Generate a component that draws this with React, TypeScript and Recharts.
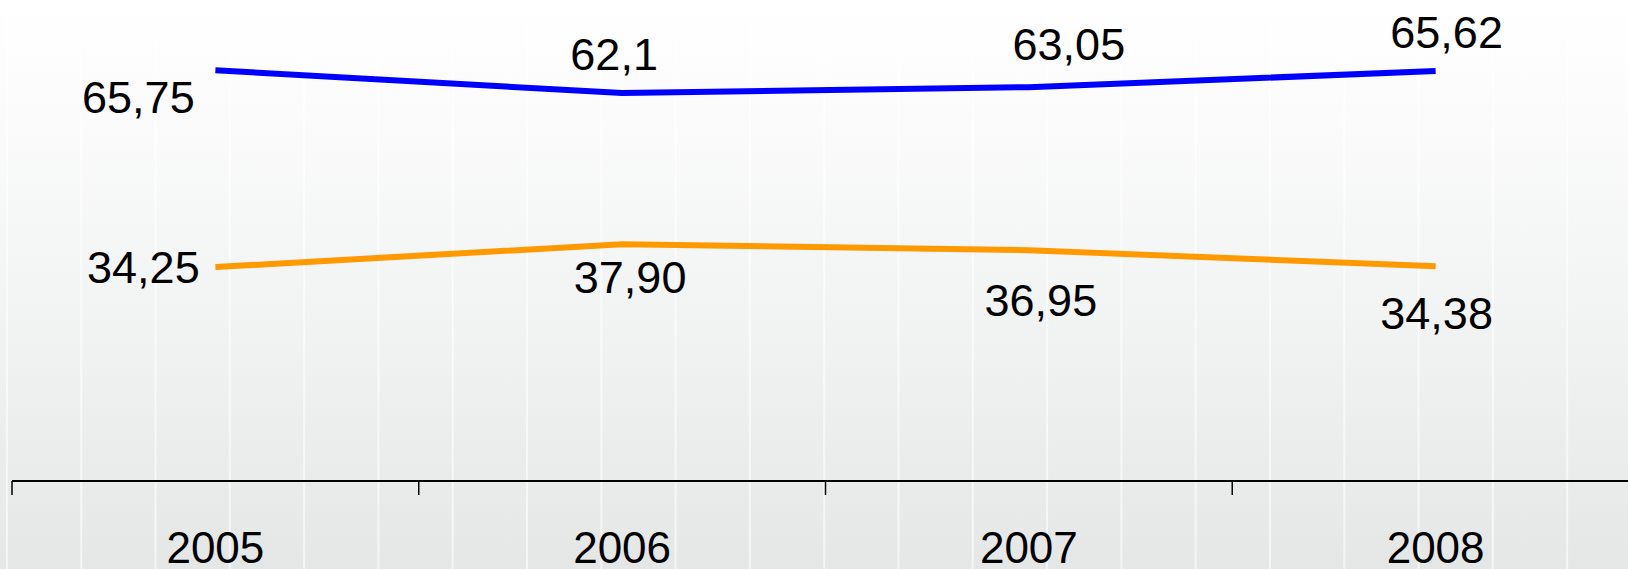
import React from 'react';
import { LineChart, Line, XAxis, YAxis, LabelList } from 'recharts';

const years = ['2005', '2006', '2007', '2008'];
const blueValues = [65.75, 62.1, 63.05, 65.62];
const orangeValues = [34.25, 37.9, 36.95, 34.38];

// label offsets (style only)
const blueLabelOffsets = [[-77, 27], [-8, -39], [40, -43], [11, -39]];
const orangeLabelOffsets = [[-72, 0], [8, 33], [12, 50], [1, 47]];

const data = years.map((y, i) => ({ x: i, year: y, blue: blueValues[i], orange: orangeValues[i] }));

const FONT = '"Liberation Sans", Arial, sans-serif';

const xTicks = [-0.5, 0, 0.5, 1, 1.5, 2, 2.5, 3, 3.5];

const CustomTick = (props: any) => {
  const { x, y, payload } = props;
  const v = payload.value;
  if (Math.abs(v - Math.round(v)) > 0.1) {
    return <line x1={x} x2={x} y1={y} y2={y + 14} stroke="#000" strokeWidth={1.5} />;
  }
  return (
    <text x={x} y={y + 66} textAnchor="middle" dominantBaseline="central" fontFamily={FONT} fontSize={44} fill="#000">
      {years[v]}
    </text>
  );
};

const makeLabel = (offsets: number[][], fmt: (v: number) => string) => (props: any) => {
  const { x, y, value, index } = props;
  const [dx, dy] = offsets[index];
  return (
    <text x={x + dx} y={y + dy} textAnchor="middle" dominantBaseline="central" fontFamily={FONT} fontSize={45} fill="#000">
      {fmt(value)}
    </text>
  );
};

const fmtBlue = (v: number) => String(v).replace('.', ',');
const fmtOrange = (v: number) => v.toFixed(2).replace('.', ',');

export default function App() {
  return (
    <div
      style={{
        position: 'absolute',
        left: 0,
        top: 0,
        width: 1628,
        height: 569,
        overflow: 'hidden',
        backgroundImage:
          'linear-gradient(to right, rgba(255,255,255,0) 6px, rgba(255,255,255,0.6) 6px, rgba(255,255,255,0.6) 8px, rgba(255,255,255,0) 8px), linear-gradient(to bottom, #ffffff 0%, #fdfdfd 12%, #f2f3f3 55%, #e5e6e6 100%)',
        backgroundSize: '74.3px 100%, 100% 100%',
        backgroundRepeat: 'repeat-x, no-repeat',
      }}
    >
      <LineChart width={1640} height={569} data={data} margin={{ top: 0, right: 1, bottom: 0, left: 12 }}>
        <XAxis
          dataKey="x"
          type="number"
          domain={[-0.5, 3.5]}
          ticks={xTicks}
          interval={0}
          height={88}
          tickSize={0}
          tickMargin={0}
          tickLine={false}
          axisLine={{ stroke: '#000', strokeWidth: 2 }}
          tick={<CustomTick />}
          allowDataOverflow
        />
        <YAxis hide domain={[0, 77]} allowDataOverflow />
        <Line dataKey="blue" stroke="#0000ff" strokeWidth={6} dot={false} isAnimationActive={false}>
          <LabelList dataKey="blue" content={makeLabel(blueLabelOffsets, fmtBlue)} />
        </Line>
        <Line dataKey="orange" stroke="#ff9900" strokeWidth={6} dot={false} isAnimationActive={false}>
          <LabelList dataKey="orange" content={makeLabel(orangeLabelOffsets, fmtOrange)} />
        </Line>
      </LineChart>
    </div>
  );
}
